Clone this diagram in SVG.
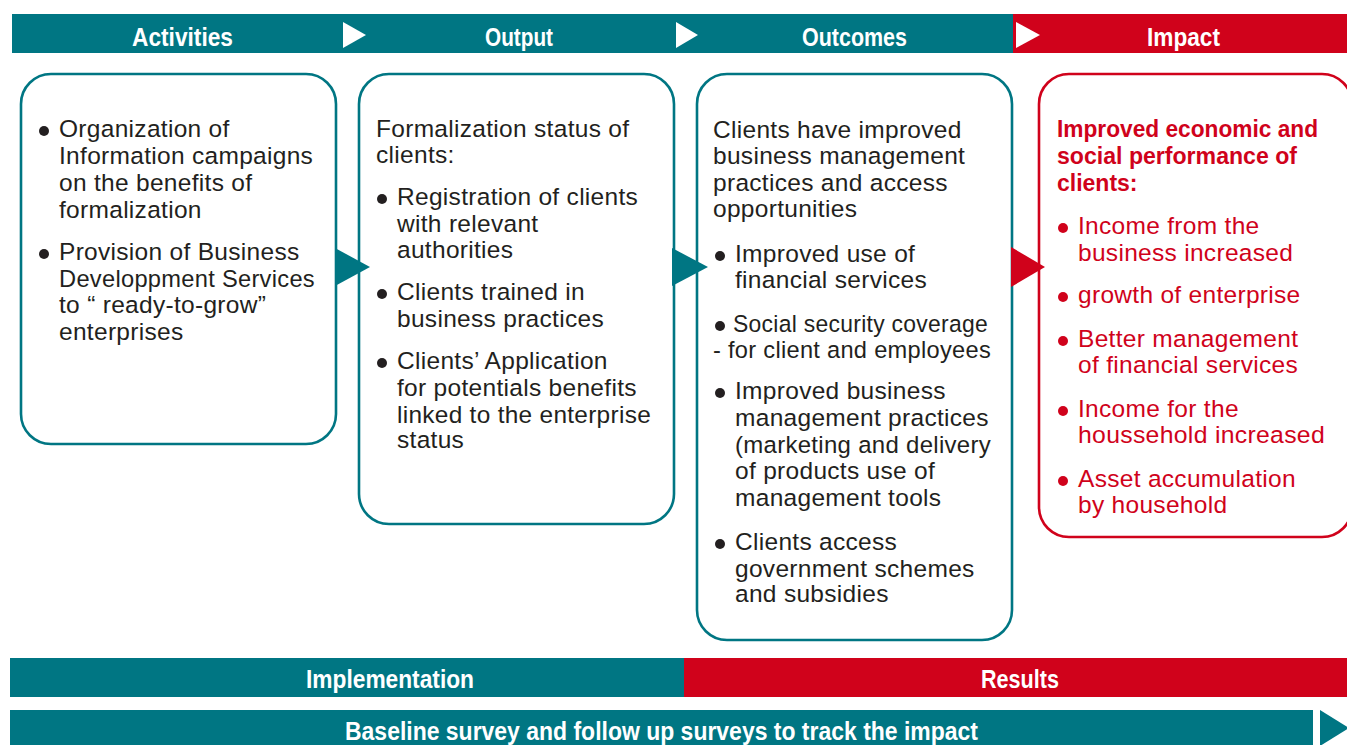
<svg xmlns="http://www.w3.org/2000/svg" width="1347" height="745" viewBox="0 0 1347 745">
<style>
.teal{fill:#007683}
.red{fill:#D0021B}
.hdr{font-family:"Liberation Sans",Arial,sans-serif;font-weight:bold;font-size:25.5px;fill:#fff;text-anchor:start}
.box{fill:#fff;stroke-width:2.6}
.bt{stroke:#007683}
.br{stroke:#D0021B}
.body{font-family:"Liberation Sans",Arial,sans-serif;font-size:24.5px;letter-spacing:0.3px;fill:#231F20}
.rbody{font-family:"Liberation Sans",Arial,sans-serif;font-size:24.5px;letter-spacing:0.3px;fill:#D0021B}
.rbold{font-family:"Liberation Sans",Arial,sans-serif;font-size:23px;font-weight:bold;fill:#D0021B}
.wt{fill:#fff}
</style>
<rect width="1347" height="745" fill="#fff"/>
<g id="header-bar">
<rect class="teal" x="12" y="14" width="1001" height="39"/>
<rect class="red" x="1013" y="14" width="334" height="39"/>
<polygon class="wt" points="343,22 366,35 343,48"/>
<polygon class="wt" points="676,22 698,35 676,48"/>
<polygon class="wt" points="1016,22 1040,35 1016,48"/>
<text class="hdr" x="132" y="46" textLength="101" lengthAdjust="spacingAndGlyphs">Activities</text>
<text class="hdr" x="485" y="46" textLength="68" lengthAdjust="spacingAndGlyphs">Output</text>
<text class="hdr" x="802" y="46" textLength="105" lengthAdjust="spacingAndGlyphs">Outcomes</text>
<text class="hdr" x="1147" y="46" textLength="73" lengthAdjust="spacingAndGlyphs">Impact</text>
</g>
<g id="activities">
<rect class="box bt" x="21" y="74" width="315" height="370" rx="30"/>
<g class="body">
<circle cx="44" cy="131" r="5" fill="#231F20"/>
<text x="59" y="137">Organization of</text>
<text x="59" y="164">Information campaigns</text>
<text x="59" y="191">on the benefits of</text>
<text x="59" y="218">formalization</text>
<circle cx="44" cy="254" r="5" fill="#231F20"/>
<text x="59" y="260">Provision of Business</text>
<text x="59" y="287" textLength="256" lengthAdjust="spacingAndGlyphs">Developpment Services</text>
<text x="59" y="313">to “ ready-to-grow”</text>
<text x="59" y="340">enterprises</text>
</g>
</g>
<g id="output">
<rect class="box bt" x="359" y="74" width="315" height="450" rx="30"/>
<g class="body">
<text x="376" y="137">Formalization status of</text>
<text x="376" y="163">clients:</text>
<circle cx="382" cy="199" r="5" fill="#231F20"/>
<text x="397" y="205">Registration of clients</text>
<text x="397" y="232">with relevant</text>
<text x="397" y="258">authorities</text>
<circle cx="382" cy="294" r="5" fill="#231F20"/>
<text x="397" y="300">Clients trained in</text>
<text x="397" y="327">business practices</text>
<circle cx="382" cy="363" r="5" fill="#231F20"/>
<text x="397" y="369">Clients’ Application</text>
<text x="397" y="396">for potentials benefits</text>
<text x="397" y="423" textLength="254" lengthAdjust="spacingAndGlyphs">linked to the enterprise</text>
<text x="397" y="448">status</text>
</g>
</g>
<g id="outcomes">
<rect class="box bt" x="697" y="74" width="315" height="566" rx="30"/>
<g class="body">
<text x="713" y="138">Clients have improved</text>
<text x="713" y="164">business management</text>
<text x="713" y="191">practices and access</text>
<text x="713" y="217">opportunities</text>
<circle cx="720" cy="256" r="5" fill="#231F20"/>
<text x="735" y="262">Improved use of</text>
<text x="735" y="288">financial services</text>
<circle cx="720" cy="326" r="5" fill="#231F20"/>
<text x="733" y="332" textLength="255" lengthAdjust="spacingAndGlyphs">Social security coverage</text>
<text x="713" y="358" textLength="278" lengthAdjust="spacingAndGlyphs">- for client and employees</text>
<circle cx="720" cy="393" r="5" fill="#231F20"/>
<text x="735" y="399">Improved business</text>
<text x="735" y="426">management practices</text>
<text x="735" y="453" textLength="256" lengthAdjust="spacingAndGlyphs">(marketing and delivery</text>
<text x="735" y="479">of products use of</text>
<text x="735" y="506">management tools</text>
<circle cx="720" cy="544" r="5" fill="#231F20"/>
<text x="735" y="550">Clients access</text>
<text x="735" y="577">government schemes</text>
<text x="735" y="602">and subsidies</text>
</g>
</g>
<g id="impact">
<rect class="box br" x="1039" y="74" width="313" height="463" rx="30"/>
<text class="rbold" x="1057" y="137" textLength="261" lengthAdjust="spacingAndGlyphs">Improved economic and</text>
<text class="rbold" x="1057" y="164" textLength="240" lengthAdjust="spacingAndGlyphs">social performance of</text>
<text class="rbold" x="1057" y="191">clients:</text>
<g class="rbody">
<circle cx="1063" cy="228" r="5" fill="#D0021B"/>
<text x="1078" y="234">Income from the</text>
<text x="1078" y="261">business increased</text>
<circle cx="1063" cy="297" r="5" fill="#D0021B"/>
<text x="1078" y="303">growth of enterprise</text>
<circle cx="1063" cy="341" r="5" fill="#D0021B"/>
<text x="1078" y="347">Better management</text>
<text x="1078" y="373">of financial services</text>
<circle cx="1063" cy="411" r="5" fill="#D0021B"/>
<text x="1078" y="417">Income for the</text>
<text x="1078" y="443" textLength="247" lengthAdjust="spacingAndGlyphs">houssehold increased</text>
<circle cx="1063" cy="481" r="5" fill="#D0021B"/>
<text x="1078" y="487">Asset accumulation</text>
<text x="1078" y="513">by household</text>
</g>
</g>
<g id="connectors">
<polygon class="teal" points="335,248 370,267 335,286"/>
<polygon class="teal" points="672,248 708,267 672,286"/>
<polygon class="red" points="1011,247 1045,267 1011,287"/>
</g>
<g id="footer-bars">
<rect class="teal" x="10" y="658" width="674" height="39"/>
<rect class="red" x="684" y="658" width="663" height="39"/>
<text class="hdr" x="306" y="688" textLength="168" lengthAdjust="spacingAndGlyphs">Implementation</text>
<text class="hdr" x="981" y="688" textLength="78" lengthAdjust="spacingAndGlyphs">Results</text>
<rect class="teal" x="10" y="710" width="1303" height="35"/>
<polygon class="teal" points="1320,710 1349,728 1320,746"/>
<text class="hdr" x="345" y="740" textLength="633" lengthAdjust="spacingAndGlyphs">Baseline survey and follow up surveys to track the impact</text>
</g>
</svg>
